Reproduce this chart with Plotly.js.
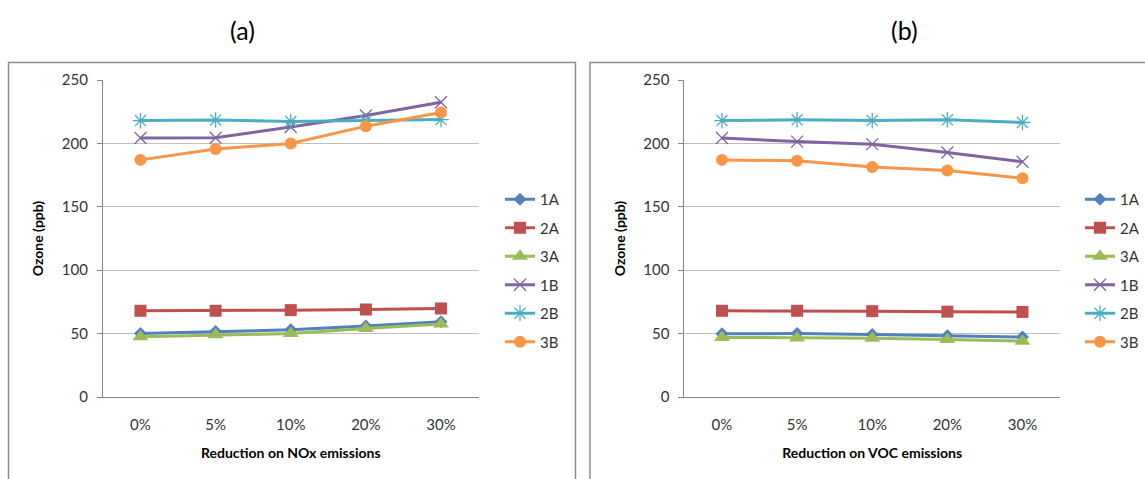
<!DOCTYPE html>
<html>
<head>
<meta charset="utf-8">
<script src="https://cdn.plot.ly/plotly-3.0.1.min.js"></script>
<style>html,body{margin:0;padding:0;background:#fff;}#chart{width:1145px;height:479px;}</style>
</head>
<body>
<div id="chart"></div>
<script>
// Categories
const categories = ["0%", "5%", "10%", "20%", "30%"];
const seriesNames = ["1A", "2A", "3A", "1B", "2B", "3B"];

// Panel (a): reduction on NOx emissions
const nox_1A = [50, 51.7, 53, 56, 59.3];
const nox_2A = [68, 68, 68.5, 69, 69.8];
const nox_3A = [47.5, 49, 50, 54, 57.5];
const nox_1B = [204.2, 204.5, 213, 222, 232.5];
const nox_2B = [218, 218.5, 217.3, 217.8, 218.8];
const nox_3B = [187, 195.5, 200, 213.6, 224.3];

// Panel (b): reduction on VOC emissions
const voc_1A = [49.8, 50, 49.2, 48.3, 47.3];
const voc_2A = [68, 68, 67.7, 67.3, 67.1];
const voc_3A = [47, 46.6, 46.4, 45.3, 44];
const voc_1B = [204.2, 201.4, 199.4, 192.8, 185.5];
const voc_2B = [218, 218.6, 218, 218.6, 216.5];
const voc_3B = [187, 186.3, 181.3, 178.6, 172.6];

const yTicks = [0, 50, 100, 150, 200, 250];

const noxData = [nox_1A, nox_2A, nox_3A, nox_1B, nox_2B, nox_3B];
const vocData = [voc_1A, voc_2A, voc_3A, voc_1B, voc_2B, voc_3B];

const colors = ["#4F81BD", "#C0504D", "#9BBB59", "#8064A2", "#4BACC6", "#F79646"];
const markerLineColors = ["#4F81BD", "#C0504D", "#9BBB59", "#A08CC0", "#7FCBDD", "#F79646"];
const symbols = ["diamond", "square", "triangle-up", "x-thin-open", "asterisk-open", "circle"];
const sizes = [10, 12, 14, 12, 13, 12];

const FONT = "Lato, 'Open Sans', sans-serif";
const traces = [];
function addPanel(data, xa, ya, legendName) {
  data.forEach((vals, i) => {
    const open = symbols[i].indexOf("open") >= 0;
    traces.push({
      type: "scatter", mode: "lines+markers",
      x: categories, y: vals, name: seriesNames[i],
      xaxis: xa, yaxis: ya, legend: legendName, legendgroup: legendName + i,
      line: {color: colors[i], width: 3},
      marker: {
        symbol: symbols[i], size: sizes[i], color: colors[i],
        line: {color: markerLineColors[i], width: open ? 1.3 : 0}
      },
      cliponaxis: false
    });
  });
}
addPanel(noxData, "x", "y", "legend");
addPanel(vocData, "x2", "y2", "legend2");

const W = 1145, H = 479;
const px = v => v / W;
const py = v => 1 - v / H;

function yAxis(anchor) {
  return {
    anchor: anchor, domain: [py(397), py(80)], range: [0, 250],
    tickvals: yTicks, ticks: "outside", ticklen: 5, tickcolor: "#868686",
    ticklabelstandoff: 6,
    showline: true, linecolor: "#868686", linewidth: 1,
    showgrid: true, gridcolor: "#BFBFBF", gridwidth: 1, zeroline: false,
    tickfont: {family: FONT, size: 15, color: "#333"},
    title: {text: "<b>Ozone (ppb)</b>", font: {family: FONT, size: 14, color: "#000"}, standoff: 14},
    fixedrange: true
  };
}
function xAxis(anchor, dom, title) {
  return {
    anchor: anchor, domain: dom, type: "category",
    range: [-0.5, 4.5],
    showline: true, linecolor: "#868686", linewidth: 1,
    showgrid: false, zeroline: false,
    ticks: "outside", ticklen: 14, tickcolor: "rgba(0,0,0,0)",
    tickfont: {family: FONT, size: 15, color: "#333"},
    title: {text: "<b>" + title + "</b>", font: {family: FONT, size: 14, color: "#000"}, standoff: 16},
    fixedrange: true
  };
}

const legendBase = {
  yanchor: "top", xanchor: "left",
  traceorder: "grouped", tracegroupgap: 6,
  font: {family: FONT, size: 15, color: "#333"},
  bgcolor: "rgba(0,0,0,0)", itemwidth: 30
};

const layout = {
  width: W, height: H,
  margin: {l: 0, r: 0, t: 0, b: 0},
  paper_bgcolor: "#fff", plot_bgcolor: "#fff",
  showlegend: true,
  xaxis: xAxis("y", [px(103), px(479)], "Reduction on NOx emissions"),
  yaxis: yAxis("x"),
  xaxis2: xAxis("y2", [px(685), px(1061)], "Reduction on VOC emissions"),
  yaxis2: yAxis("x2"),
  legend: Object.assign({}, legendBase, {x: px(500), y: py(183)}),
  legend2: Object.assign({}, legendBase, {x: px(1081), y: py(183)}),
  annotations: [
    {text: "(a)", x: px(243), y: py(30), xref: "paper", yref: "paper", showarrow: false,
     xanchor: "center", yanchor: "middle", font: {family: FONT, size: 25, color: "#000"}},
    {text: "(b)", x: px(905), y: py(30), xref: "paper", yref: "paper", showarrow: false,
     xanchor: "center", yanchor: "middle", font: {family: FONT, size: 25, color: "#000"}}
  ],
  shapes: [
    {type: "rect", xref: "paper", yref: "paper", x0: px(8.5), x1: px(576), y0: py(490), y1: py(62.5),
     line: {color: "#8C8C8C", width: 1.5}, fillcolor: "rgba(0,0,0,0)", layer: "below"},
    {type: "rect", xref: "paper", yref: "paper", x0: px(590.5), x1: px(1160), y0: py(490), y1: py(62.5),
     line: {color: "#8C8C8C", width: 1.5}, fillcolor: "rgba(0,0,0,0)", layer: "below"}
  ]
};

Plotly.newPlot("chart", traces, layout, {displayModeBar: false, staticPlot: true});
</script>
</body>
</html>
